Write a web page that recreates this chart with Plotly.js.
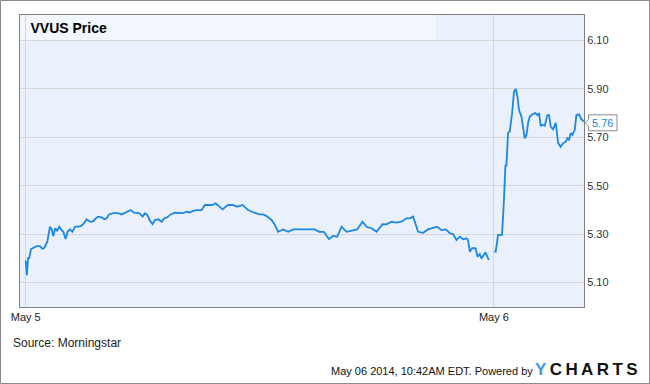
<!DOCTYPE html>
<html>
<head>
<meta charset="utf-8">
<script src="https://cdn.plot.ly/plotly-3.0.1.min.js"></script>
<style>
  html, body { margin: 0; padding: 0; background: #ffffff; }
  #chart { width: 650px; height: 384px; }
</style>
</head>
<body>
<div id="chart"></div>
<script>
// ---- Data ----
// Minutes after the open, May 5 2014
var may5Minutes = [0,1,2,3,4.5,6.4,9.3,12,14,15.6,
  18.2,20.4,21.9,23.2,24.9,26.3,28.3,30.3,31.6,33.6,
  35.3,37.3,39.2,41.5,44.2,46.5,49,51.3,54.1,56.3,
  59.1,61.1,63.9,66.1,68.1,70.1,73.7,77.9,80.7,83.5,
  85.4,88.3,91.1,95.5,98.4,100.3,102.3,104.5,106.8,108.7,
  111.5,114.4,116.6,119.1,122,125.6,128.3,132.5,135.4,138.2,
  141,143.8,148,150.8,155,156.9,159.8,162,165.7,169,
  170.4,174.1,178,182.5,187.2,191.4,196.5,199.8,202.7,206.9,
  209.7,212.4,216.7,220.9,225.1,230.7,236.3,243.3,246.9,250.9,
  255.1,258.7,262.1,265.8,270,274.2,278.9,283.4,286.8,291,
  295.2,300.3,303.6,307.8,312,316.2,320.4,323.2,326,330.2,
  334.4,338.6,342.8,346.2,349.9,353.5,356.9,359.6,362.5,365.3,
  368.1,370.9,372.2,373.7,375.6,378.5,380.2,382.1,383.5,386.9,
  389.7];
var may5Prices = [5.19,5.13,5.20,5.20,5.238,5.243,5.25,5.25,5.239,5.242,
  5.268,5.33,5.319,5.292,5.324,5.312,5.33,5.316,5.309,5.279,
  5.309,5.319,5.309,5.33,5.333,5.333,5.344,5.361,5.351,5.351,
  5.365,5.372,5.369,5.361,5.365,5.381,5.386,5.386,5.381,5.386,
  5.392,5.399,5.388,5.386,5.372,5.386,5.379,5.355,5.341,5.358,
  5.361,5.351,5.365,5.369,5.381,5.388,5.386,5.386,5.392,5.389,
  5.396,5.399,5.399,5.42,5.42,5.42,5.427,5.417,5.402,5.416,
  5.42,5.42,5.413,5.42,5.399,5.39,5.381,5.381,5.374,5.358,
  5.337,5.309,5.319,5.309,5.319,5.319,5.319,5.319,5.309,5.309,
  5.279,5.292,5.289,5.33,5.309,5.314,5.319,5.351,5.33,5.324,
  5.309,5.341,5.34,5.351,5.347,5.351,5.365,5.365,5.372,5.309,
  5.305,5.319,5.324,5.33,5.316,5.319,5.303,5.30,5.275,5.289,
  5.278,5.282,5.275,5.227,5.241,5.241,5.206,5.217,5.199,5.224,
  5.192];
// Minutes after the open, May 6 2014
var may6Minutes = [0.1,1.5,3.5,4.9,6.8,8.3,9.7,10.5,11.9,13.3,
  15.3,16.9,18.4,19.8,21.1,23.2,24.5,25.9,27.4,28.7,
  30.1,32.4,34.9,36.6,38.0,39.4,40.8,42.8,45.0,46.4,
  47.8,49.8,52.0,54.0,56.0,58.1,60.4,61.8,63.2,64.6,
  66.0,68.0,69.4,71.6,73.6,75.6];
var may6Prices = [5.227,5.227,5.296,5.296,5.296,5.427,5.586,5.582,5.719,5.723,
  5.80,5.889,5.90,5.868,5.813,5.785,5.744,5.696,5.71,5.758,
  5.785,5.795,5.80,5.792,5.80,5.746,5.752,5.748,5.792,5.792,
  5.744,5.733,5.76,5.678,5.661,5.675,5.682,5.696,5.69,5.717,
  5.71,5.73,5.792,5.795,5.775,5.765];
var dayLabels = ['May 5', 'May 6'];
var priceTicks = [5.10, 5.30, 5.50, 5.70, 5.90, 6.10];
var lastPriceLabel = '5.76';
var lastPriceValue = 5.76;

// ---- Layout helpers ----
var W = 650, H = 384;
var M = {l: 20, r: 66, t: 15, b: 77};
var PW = W - M.l - M.r, PH = H - M.t - M.b;
var session2Offset = 394;               // axis position of the May 6 open
var xRange = [-4.8, 469.8];
var yRange = [4.998, 6.206];
function px2paperX(px) { return (px - M.l) / PW; }
function px2paperY(py) { return (H - M.b - py) / PH; }
function val2paperY(v) { return (v - yRange[0]) / (yRange[1] - yRange[0]); }

var may6X = may6Minutes.map(function (m) { return m + session2Offset; });

var lineColor = '#1b87e6';
var fontFam = 'Arial, "Liberation Sans", sans-serif';
var thin = '\u2009';

var traces = [
  {x: may5Minutes, y: may5Prices, type: 'scatter', mode: 'lines',
   line: {color: lineColor, width: 1.8}, hoverinfo: 'skip', showlegend: false},
  {x: may6X, y: may6Prices, type: 'scatter', mode: 'lines',
   line: {color: lineColor, width: 1.8}, hoverinfo: 'skip', showlegend: false}
];

var yLast = val2paperY(lastPriceValue);

var logoText = '<span style="color:#3d9be9">Y</span>' + thin +
  ['C', 'H', 'A', 'R', 'T', 'S'].join(thin);

var layout = {
  width: W, height: H,
  margin: M,
  paper_bgcolor: '#ffffff',
  plot_bgcolor: '#eaf1fc',
  font: {family: fontFam, size: 11, color: '#333333'},
  showlegend: false,
  title: {
    text: '<b>VVUS Price</b>',
    font: {family: fontFam, size: 14, color: '#000000'},
    xref: 'paper', x: px2paperX(30.5), xanchor: 'left',
    yref: 'container', y: 1 - 28.5 / H, yanchor: 'middle'
  },
  xaxis: {
    range: xRange,
    tickvals: [0, session2Offset],
    ticktext: dayLabels,
    showgrid: true, gridcolor: '#d6d6d6', gridwidth: 1,
    zeroline: false,
    showline: true, mirror: true, linecolor: '#808080', linewidth: 1,
    ticks: '',
    tickfont: {family: fontFam, size: 11, color: '#222222'},
    fixedrange: true
  },
  yaxis: {
    side: 'right',
    range: yRange,
    tickvals: priceTicks,
    tickformat: '.2f',
    showgrid: true, gridcolor: '#d6d6d6', gridwidth: 1,
    zeroline: false,
    showline: true, mirror: true, linecolor: '#808080', linewidth: 1,
    ticks: '',
    tickfont: {family: fontFam, size: 11, color: '#333333'},
    fixedrange: true
  },
  shapes: [
    // lighter title band
    {type: 'rect', layer: 'below', xref: 'paper', yref: 'paper',
     x0: 0, x1: px2paperX(436), y0: val2paperY(6.10), y1: 1,
     fillcolor: '#f3f7fe', line: {width: 0}},
    // outer frame of the image
    {type: 'rect', layer: 'above', xref: 'paper', yref: 'paper',
     x0: px2paperX(0.5), x1: px2paperX(649.5), y0: px2paperY(383.5), y1: px2paperY(0.5),
     fillcolor: 'rgba(0,0,0,0)', line: {color: '#8a8a8a', width: 1}},
    // last-price callout box
    {type: 'path', layer: 'above', xref: 'paper', yref: 'paper',
     xsizemode: 'pixel', ysizemode: 'pixel', xanchor: 1, yanchor: yLast,
     path: 'M 1,0 L 4.5,3.5 L 4.5,8 L 33,8 L 33,-8 L 4.5,-8 L 4.5,-3.5 Z',
     fillcolor: '#ffffff', line: {color: '#8a8a8a', width: 1}}
  ],
  annotations: [
    {text: lastPriceLabel, xref: 'paper', yref: 'paper', x: 1, y: yLast,
     xanchor: 'left', yanchor: 'middle', xshift: 6, showarrow: false,
     font: {family: fontFam, size: 11, color: lineColor}},
    {text: 'Source: Morningstar', xref: 'paper', yref: 'paper',
     x: px2paperX(11), y: px2paperY(343), xanchor: 'left', yanchor: 'middle',
     showarrow: false, font: {family: fontFam, size: 12, color: '#222222'}},
    {text: 'May 06 2014, 10:42AM EDT. Powered by', xref: 'paper', yref: 'paper',
     x: px2paperX(535), y: px2paperY(370.5), xanchor: 'right', yanchor: 'middle',
     showarrow: false, font: {family: fontFam, size: 11, color: '#111111'}},
    {text: logoText, xref: 'paper', yref: 'paper',
     x: px2paperX(640), y: px2paperY(369), xanchor: 'right', yanchor: 'middle',
     showarrow: false, font: {family: fontFam, size: 17, color: '#111111', weight: 'bold'}}
  ]
};

Plotly.newPlot('chart', traces, layout, {displayModeBar: false, staticPlot: true});
</script>
</body>
</html>
